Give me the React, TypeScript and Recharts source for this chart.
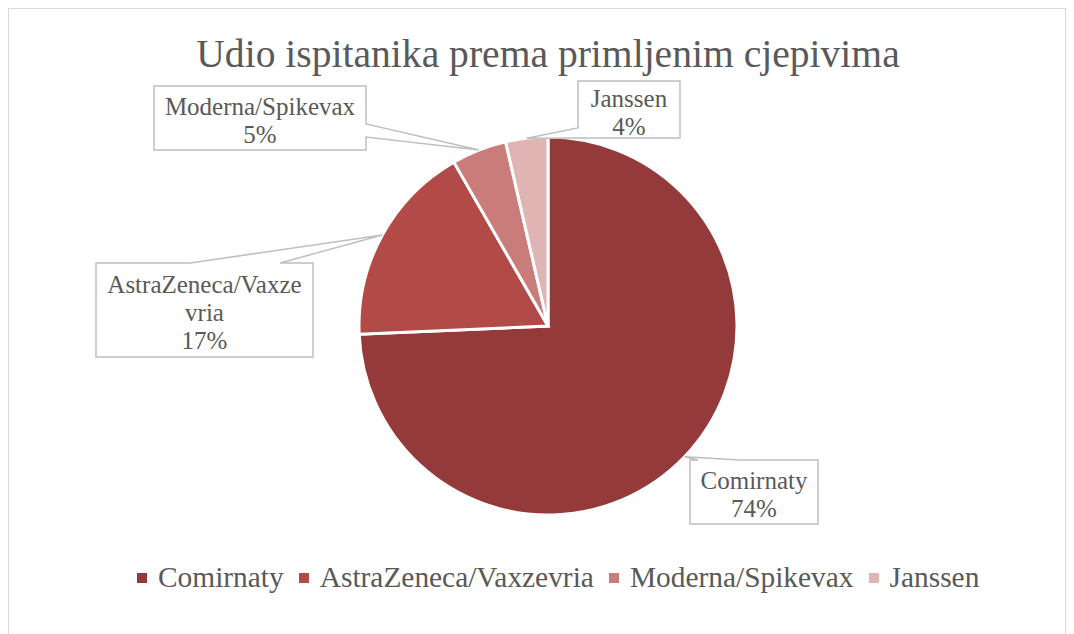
import { PieChart, Pie, Cell, Legend } from 'recharts';

const vaccines = ['Comirnaty', 'AstraZeneca/Vaxzevria', 'Moderna/Spikevax', 'Janssen'];
const shares = [74.3, 17.4, 4.7, 3.6];
const colors = ['#953A3A', '#B24A47', '#C97C7A', '#DFB4B3'];

const data = vaccines.map((name, i) => ({ name, value: shares[i] }));

// callout boxes (chart coords), wedge base offsets along one side
const callouts = [
  { x: 681, y: 451, w: 128, h: 64, side: 'top', a: 8, b: 50 },
  { x: 87, y: 254, w: 217, h: 94, side: 'top', a: 94, b: 184 },
  { x: 145, y: 77, w: 212, h: 64, side: 'right', a: 38, b: 51 },
  { x: 569, y: 72, w: 102, h: 57, side: 'left', a: 47, b: 57 },
];

const FONT = '"Liberation Serif", "DejaVu Serif", serif';
const TEXT = '#595959';
const RAD = Math.PI / 180;

const wrap = (s: string, n: number) => {
  const out: string[] = [];
  for (let i = 0; i < s.length; i += n) out.push(s.slice(i, i + n));
  return out;
};

const calloutPath = (c: any, tx: number, ty: number) => {
  const { x, y, w, h, side, a, b } = c;
  const pts: number[][] = [];
  if (side === 'top') pts.push([x, y], [x + a, y], [tx, ty], [x + b, y], [x + w, y], [x + w, y + h], [x, y + h]);
  if (side === 'right') pts.push([x, y], [x + w, y], [x + w, y + a], [tx, ty], [x + w, y + b], [x + w, y + h], [x, y + h]);
  if (side === 'bottom') pts.push([x, y], [x + w, y], [x + w, y + h], [x + b, y + h], [tx, ty], [x + a, y + h], [x, y + h]);
  if (side === 'left') pts.push([x, y], [x + w, y], [x + w, y + h], [x, y + h], [x, y + b], [tx, ty], [x, y + a]);
  return 'M' + pts.map((p) => p.join(',')).join('L') + 'Z';
};

const renderLabel = (props: any) => {
  const { cx, cy, midAngle, outerRadius, percent, name, index } = props;
  const c = callouts[index];
  const tx = cx + outerRadius * Math.cos(-midAngle * RAD);
  const ty = cy + outerRadius * Math.sin(-midAngle * RAD);
  const lines = [...wrap(name, 17), `${Math.round(percent * 100)}%`];
  const top = c.y + (c.h - lines.length * 28) / 2 + 25;
  return (
    <g key={name}>
      <path d={calloutPath(c, tx, ty)} fill="#fff" stroke="#BFBFBF" strokeWidth={1.5} />
      {lines.map((l, i) => (
        <text key={i} x={c.x + c.w / 2} y={top + i * 28} textAnchor="middle" fontFamily={FONT} fontSize={25} fill={TEXT}>
          {l}
        </text>
      ))}
    </g>
  );
};

const renderLegend = () => (
  <div style={{ display: 'flex', alignItems: 'center', fontFamily: FONT, fontSize: 29.4, color: TEXT, paddingLeft: 128 }}>
    {vaccines.map((v, i) => (
      <div key={v} style={{ display: 'flex', alignItems: 'center', marginRight: 15 }}>
        <span style={{ width: 10, height: 10, background: colors[i], marginRight: 11, display: 'inline-block' }} />
        <span>{v}</span>
      </div>
    ))}
  </div>
);

export default function App() {
  return (
    <div style={{ position: 'relative', width: 1056, height: 628, border: '1px solid #D9D9D9', background: '#fff' }}>
      <svg width={1056} height={80} style={{ position: 'absolute', left: 0, top: 0 }}>
        <text x={539} y={58} textAnchor="middle" fontFamily={FONT} fontSize={39.6} fill={TEXT}>
          Udio ispitanika prema primljenim cjepivima
        </text>
      </svg>
      <PieChart width={1056} height={628} margin={{ top: 0, right: 0, bottom: 0, left: 0 }}>
        <Pie
          data={data}
          dataKey="value"
          nameKey="name"
          cx={539}
          cy={317}
          outerRadius={189}
          startAngle={90}
          endAngle={-270}
          stroke="#fff"
          strokeWidth={3}
          label={renderLabel}
          labelLine={false}
          isAnimationActive={false}
        >
          {data.map((d, i) => (
            <Cell key={d.name} fill={colors[i]} />
          ))}
        </Pie>
        <Legend content={renderLegend} wrapperStyle={{ top: 552, left: 0, width: 1056 }} />
      </PieChart>
    </div>
  );
}
